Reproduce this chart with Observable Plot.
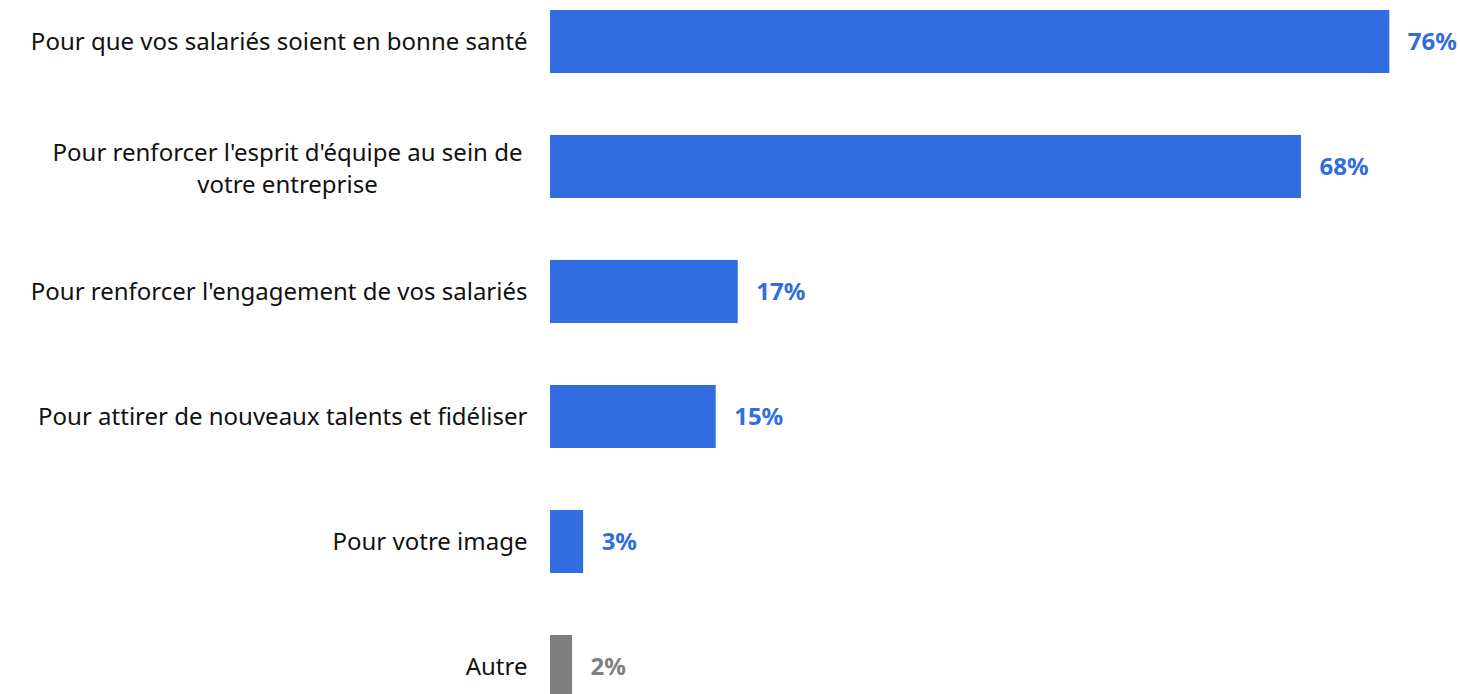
<!DOCTYPE html>
<html>
<head>
<meta charset="utf-8">
<script src="https://cdn.jsdelivr.net/npm/d3@7"></script>
<script src="https://cdn.jsdelivr.net/npm/@observablehq/plot@0.6"></script>
<style>
  html, body { margin: 0; padding: 0; background: #ffffff; overflow: hidden; }
  #chart svg { display: block; }
</style>
</head>
<body>
<div id="chart"></div>
<script>
const categories = [
  "Pour que vos salariés soient en bonne santé",
  "Pour renforcer l'esprit d'équipe au sein de\nvotre entreprise",
  "Pour renforcer l'engagement de vos salariés",
  "Pour attirer de nouveaux talents et fidéliser",
  "Pour votre image",
  "Autre"
];
const values = [76, 68, 17, 15, 3, 2];
const groups = ["main", "main", "main", "main", "main", "other"];

const data = categories.map((c, i) => ({category: c, value: values[i], group: groups[i], label: values[i] + "%"}));
const singleLine = data.filter(d => !d.category.includes("\n"));
const multiLine = data.filter(d => d.category.includes("\n"));

const FONT = "'Noto Sans', sans-serif";

const chart = Plot.plot({
  width: 1460,
  height: 694,
  marginLeft: 550,
  marginRight: 0,
  style: {background: "#ffffff", fontFamily: FONT, overflow: "hidden"},
  x: {domain: [0, 82.4], axis: null},
  y: {domain: categories, range: [9, 699], paddingInner: 0.5, paddingOuter: 0, axis: null},
  color: {domain: ["main", "other"], range: ["#316ce0", "#7f7f7f"]},
  marks: [
    Plot.barX(data, {x: "value", y: "category", fill: "group"}),
    Plot.text(singleLine, {x: 0, y: "category", text: "category", textAnchor: "end", dx: -23, fontSize: 24, fill: "#111111", fontFamily: FONT}),
    Plot.text(multiLine, {x: 0, y: "category", text: "category", textAnchor: "middle", dx: -263, fontSize: 24, lineHeight: 1.3, fill: "#111111", fontFamily: FONT}),
    Plot.text(data, {x: "value", y: "category", text: "label", textAnchor: "start", dx: 18, fontSize: 24, fontWeight: "bold", fill: "group", fontFamily: FONT})
  ]
});
document.getElementById("chart").appendChild(chart);
</script>
</body>
</html>
